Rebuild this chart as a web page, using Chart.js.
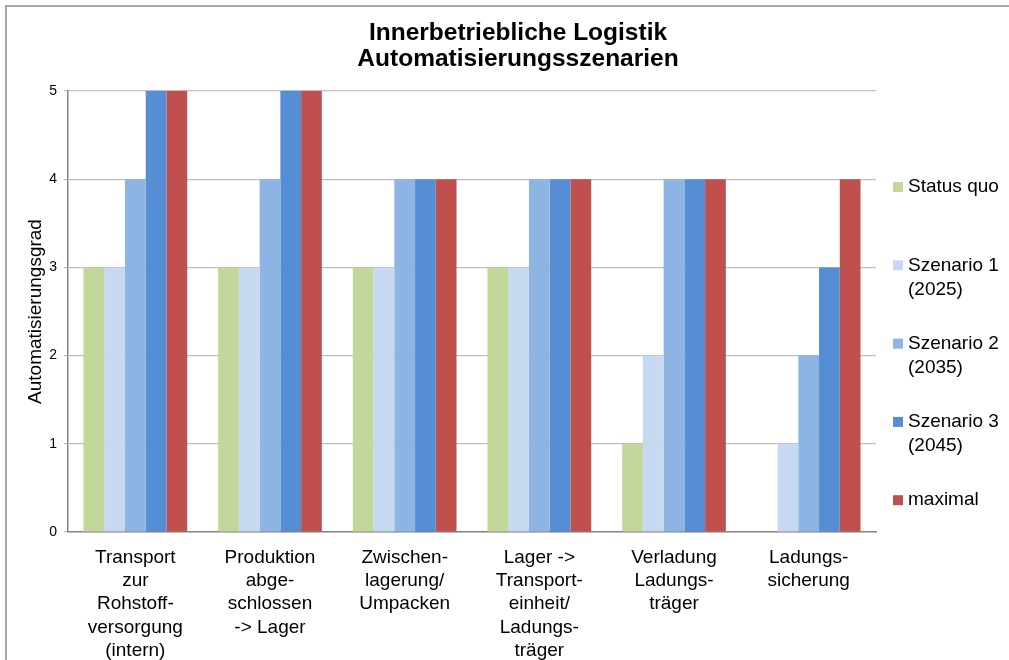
<!DOCTYPE html>
<html lang="de">
<head>
<meta charset="utf-8">
<title>Innerbetriebliche Logistik</title>
<script src="https://cdn.jsdelivr.net/npm/chart.js@4.4.1/dist/chart.umd.min.js"></script>
<style>
    html, body { margin: 0; padding: 0; background: #fff; overflow: hidden; }
    #wrap { position: relative; width: 1009px; height: 660px; }
    #frame { position: absolute; left: 5px; top: 5px; width: 1200px; height: 900px;
             border-left: 2px solid #a6a6a6; border-top: 2px solid #a6a6a6; pointer-events: none; }
</style>
</head>
<body>
<div id="wrap">
    <canvas id="chart"></canvas>
    <div id="frame"></div>
</div>
<script>
// Kategorien (mehrzeilige Achsenbeschriftung)
const categories = [
    ['Transport', 'zur', 'Rohstoff-', 'versorgung', '(intern)'],
    ['Produktion', 'abge-', 'schlossen', '-> Lager'],
    ['Zwischen-', 'lagerung/', 'Umpacken'],
    ['Lager ->', 'Transport-', 'einheit/', 'Ladungs-', 'träger'],
    ['Verladung', 'Ladungs-', 'träger'],
    ['Ladungs-', 'sicherung']
];

const chartTitle = ['Innerbetriebliche Logistik', 'Automatisierungsszenarien'];
const seriesNames = ['Status quo', 'Szenario 1 (2025)', 'Szenario 2 (2035)', 'Szenario 3 (2045)', 'maximal'];
const legendLines = [['Status quo'], ['Szenario 1', '(2025)'], ['Szenario 2', '(2035)'], ['Szenario 3', '(2045)'], ['maximal']];
const seriesColors = ['#c4d79b', '#c6d9f0', '#8eb4e3', '#558ed5', '#c0504d'];

const statusQuo = [3, 3, 3, 3, 1, 0];
const szenario1 = [3, 3, 3, 3, 2, 1];
const szenario2 = [4, 4, 4, 4, 4, 2];
const szenario3 = [5, 5, 4, 4, 4, 3];
const maximal   = [5, 5, 4, 4, 4, 4];

const yTicks = [0, 1, 2, 3, 4, 5];

const seriesValues = [statusQuo, szenario1, szenario2, szenario3, maximal];

const FONT = 'Arial, "Liberation Sans", sans-serif';

// Titel über die ganze Breite zentriert, Legende rechts untereinander
const extras = {
    id: 'extras',
    afterDraw(chart) {
        const ctx = chart.ctx;
        ctx.save();
        ctx.fillStyle = '#000';
        ctx.textBaseline = 'middle';

        ctx.textAlign = 'center';
        ctx.font = 'bold 24.5px ' + FONT;
        chartTitle.forEach((line, i) => ctx.fillText(line, 518, 33 + i * 26));

        const boxX = 893, textX = 908, startY = 187, step = 78.3, lineH = 24;
        ctx.font = '19px ' + FONT;
        ctx.textAlign = 'left';
        chart.data.datasets.forEach((ds, i) => {
            const y = startY + i * step;
            ctx.fillStyle = ds.backgroundColor;
            ctx.fillRect(boxX, y - 5, 10, 10);
            ctx.fillStyle = '#000';
            legendLines[i].forEach((line, j) => {
                ctx.fillText(line, textX, y + j * lineH);
            });
        });
        ctx.restore();
    }
};

new Chart(document.getElementById('chart'), {
    type: 'bar',
    data: {
        labels: categories,
        datasets: seriesValues.map((vals, i) => ({
            label: seriesNames[i],
            data: vals,
            backgroundColor: seriesColors[i],
            borderWidth: 0,
            categoryPercentage: 0.77,
            barPercentage: 1.0
        }))
    },
    options: {
        responsive: true,
        maintainAspectRatio: false,
        animation: false,
        layout: { padding: { left: 0, right: 133, top: 91, bottom: 0 } },
        plugins: {
            legend: { display: false },
            tooltip: { enabled: false },
            title: { display: false }
        },
        scales: {
            x: {
                grid: { display: false, drawTicks: false },
                border: { display: true, color: '#868686', width: 1.5 },
                ticks: {
                    color: '#000',
                    font: { family: FONT, size: 19, lineHeight: 23.3 / 19 },
                    padding: 14,
                    maxRotation: 0,
                    autoSkip: false
                },
                afterFit(scale) { scale.height = 128; }
            },
            y: {
                min: 0,
                max: 5,
                afterBuildTicks(scale) { scale.ticks = yTicks.map(v => ({ value: v })); },
                grid: { color: '#bfbfbf', lineWidth: 1.2, tickLength: 4 },
                border: { display: true, color: '#868686', width: 1.5 },
                ticks: {
                    color: '#000',
                    font: { family: FONT, size: 14 },
                    padding: 7
                },
                title: {
                    display: true,
                    text: 'Automatisierungsgrad',
                    color: '#000',
                    font: { family: FONT, size: 19 },
                    padding: { top: 24, bottom: 0 }
                },
                afterFit(scale) { scale.width = 68; }
            }
        }
    },
    plugins: [extras]
});
</script>
</body>
</html>
